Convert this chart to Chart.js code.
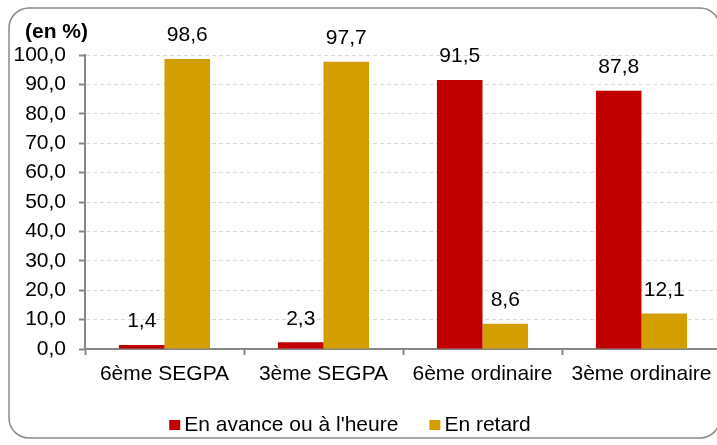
<!DOCTYPE html>
<html>
<head>
<meta charset="utf-8">
<script src="https://cdn.jsdelivr.net/npm/chart.js"></script>
<style>
  html, body { margin: 0; padding: 0; background: #fff; }
  #wrap { width: 717px; height: 445px; overflow: hidden; position: relative; }
</style>
</head>
<body>
<div id="wrap">
  <canvas id="retard-chart" width="725" height="445"></canvas>
</div>
<script>
// Data
const categories = ['6ème SEGPA', '3ème SEGPA', '6ème ordinaire', '3ème ordinaire'];
const enAvance = [1.4, 2.3, 91.5, 87.8];
const enRetard = [98.6, 97.7, 8.6, 12.1];
const seriesLabels = ['En avance ou à l\'heure', 'En retard'];
const yTicks = [0, 10, 20, 30, 40, 50, 60, 70, 80, 90, 100];
const unitLabel = '(en %)';

const FONT = "'Liberation Sans', Arial, sans-serif";
const FSIZE = 21;
const RED = '#c00000';
const GOLD = '#d29e00';

const frCommaOne = v => v.toFixed(1).replace('.', ',');

// Rounded frame around the whole chart + unit label
const framePlugin = {
    id: 'frame',
    beforeDraw(chart) {
        const ctx = chart.ctx;
        const x = 9, y = 8, w = 711, h = 430, r = 20;
        ctx.save();
        ctx.beginPath();
        ctx.moveTo(x + r, y);
        ctx.lineTo(x + w - r, y);
        ctx.arcTo(x + w, y, x + w, y + r, r);
        ctx.lineTo(x + w, y + h - r);
        ctx.arcTo(x + w, y + h, x + w - r, y + h, r);
        ctx.lineTo(x + r, y + h);
        ctx.arcTo(x, y + h, x, y + h - r, r);
        ctx.lineTo(x, y + r);
        ctx.arcTo(x, y, x + r, y, r);
        ctx.closePath();
        ctx.lineWidth = 1.5;
        ctx.strokeStyle = '#8a8a8a';
        ctx.stroke();

        ctx.font = 'bold ' + FSIZE + 'px ' + FONT;
        ctx.fillStyle = '#000';
        ctx.textAlign = 'left';
        ctx.textBaseline = 'middle';
        ctx.fillText(unitLabel, 25, 32);
        ctx.restore();
    }
};

// Value labels above each bar
const valueLabels = {
    id: 'valueLabels',
    afterDatasetsDraw(chart) {
        const ctx = chart.ctx;
        ctx.save();
        ctx.font = FSIZE + 'px ' + FONT;
        ctx.fillStyle = '#000';
        ctx.textAlign = 'center';
        ctx.textBaseline = 'middle';
        chart.data.datasets.forEach((ds, i) => {
            chart.getDatasetMeta(i).data.forEach((bar, j) => {
                ctx.fillText(frCommaOne(ds.data[j]), bar.x, bar.y - 23.5);
            });
        });
        ctx.restore();
    }
};

// Legend drawn at the bottom, Excel style (small squares)
const bottomLegend = {
    id: 'bottomLegend',
    afterDraw(chart) {
        const ctx = chart.ctx;
        ctx.save();
        ctx.font = FSIZE + 'px ' + FONT;
        ctx.textBaseline = 'middle';
        const box = 11, gapText = 4, gapItem = 31, cy = 425;
        const items = chart.data.datasets.map(ds => ({
            label: ds.label,
            color: ds.backgroundColor,
            w: ctx.measureText(ds.label).width
        }));
        let total = 0;
        items.forEach((it, i) => { total += box + gapText + it.w + (i ? gapItem : 0); });
        let x = 350 - total / 2;
        items.forEach(it => {
            ctx.fillStyle = it.color;
            ctx.fillRect(x, cy - 5, box, 10);
            ctx.fillStyle = '#000';
            ctx.fillText(it.label, x + box + gapText, cy);
            x += box + gapText + it.w + gapItem;
        });
        ctx.restore();
    }
};

const ctx = document.getElementById('retard-chart').getContext('2d');
new Chart(ctx, {
    type: 'bar',
    data: {
        labels: categories,
        datasets: [
            { label: seriesLabels[0], data: enAvance, backgroundColor: RED },
            { label: seriesLabels[1], data: enRetard, backgroundColor: GOLD }
        ]
    },
    options: {
        responsive: false,
        animation: false,
        devicePixelRatio: 1,
        layout: { padding: { left: 0, right: 4, top: 55, bottom: 0 } },
        datasets: {
            bar: { categoryPercentage: 0.573, barPercentage: 1.0 }
        },
        plugins: {
            legend: { display: false },
            tooltip: { enabled: false },
            title: { display: false }
        },
        scales: {
            x: {
                afterFit: s => { s.height = 96; },
                grid: {
                    drawOnChartArea: false,
                    drawTicks: true,
                    tickLength: 6,
                    tickColor: '#868686',
                    tickWidth: 2
                },
                border: { color: '#868686', width: 2 },
                ticks: {
                    color: '#000',
                    font: { family: FONT, size: FSIZE },
                    padding: 7,
                    maxRotation: 0,
                    autoSkip: false
                }
            },
            y: {
                min: 0,
                max: 100,
                afterFit: s => { s.width = 85; },
                afterBuildTicks: s => { s.ticks = yTicks.map(v => ({ value: v })); },
                grid: {
                    color: '#d9d9d9',
                    lineWidth: 1,
                    tickLength: 6,
                    tickColor: '#868686',
                    tickWidth: 2
                },
                border: { color: '#868686', width: 2, dash: [4, 3] },
                ticks: {
                    color: '#000',
                    font: { family: FONT, size: FSIZE },
                    padding: 13,
                    callback: v => frCommaOne(v)
                }
            }
        }
    },
    plugins: [framePlugin, valueLabels, bottomLegend]
});
</script>
</body>
</html>
